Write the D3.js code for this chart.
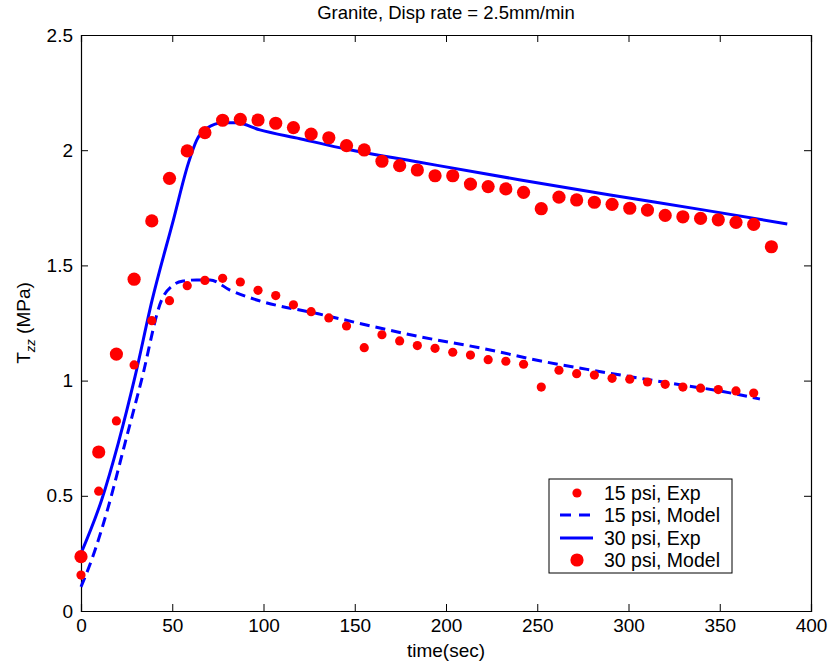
<!DOCTYPE html>
<html>
<head>
<meta charset="utf-8">
<script src="https://cdn.jsdelivr.net/npm/d3@7"></script>
<style>
  body { margin: 0; background: #fff; }
  text { font-family: "Liberation Sans", Arial, Helvetica, sans-serif; }
</style>
</head>
<body>
<div class="chart"></div>
<script>
// sample times (sec), same for both point series
var timeExp = [0, 9.7, 19.4, 29.1, 38.8, 48.5, 58.2, 67.9, 77.6, 87.3, 97, 106.7, 116.4, 126.1,
  135.8, 145.5, 155.2, 164.9, 174.6, 184.3, 194, 203.7, 213.4, 223.1, 232.8, 242.5, 252.2,
  261.9, 271.6, 281.3, 291, 300.7, 310.4, 320.1, 329.8, 339.5, 349.2, 358.9, 368.6, 378.3];

// 15 psi, Exp (small dots) -- one fewer than the 30 psi set
var exp15 = [0.156, 0.520, 0.825, 1.068, 1.260, 1.347, 1.412, 1.435, 1.444, 1.428, 1.392, 1.369,
  1.329, 1.299, 1.272, 1.237, 1.143, 1.199, 1.172, 1.152, 1.140, 1.123, 1.111, 1.091, 1.084,
  1.071, 0.972, 1.045, 1.030, 1.024, 1.010, 1.006, 0.994, 0.984, 0.972, 0.967, 0.961, 0.955, 0.946];

// 30 psi, Model (big dots)
var model30 = [0.236, 0.690, 1.115, 1.440, 1.693, 1.878, 1.997, 2.076, 2.130, 2.134, 2.131, 2.117,
  2.098, 2.070, 2.054, 2.020, 2.001, 1.952, 1.933, 1.914, 1.889, 1.889, 1.853, 1.842, 1.832,
  1.817, 1.746, 1.796, 1.784, 1.774, 1.765, 1.748, 1.740, 1.717, 1.711, 1.704, 1.698, 1.687,
  1.678, 1.581];

// 15 psi, Model (dashed)
var modelT15 = [0, 5.8, 15, 24.1, 33.2, 44.2, 50.6, 56, 63.4, 70.7, 81.6, 96.3, 130, 160, 186, 220, 252, 280, 301, 330, 350, 372];
var model15 = [0.105, 0.221, 0.453, 0.728, 1.003, 1.35, 1.415, 1.432, 1.437, 1.437, 1.393, 1.35,
  1.29, 1.235, 1.19, 1.14, 1.085, 1.045, 1.017, 0.98, 0.955, 0.92];

// 30 psi, Exp (solid)
var expT30 = [0, 11.3, 20.4, 29.6, 39, 50.6, 58.8, 63.4, 68.9, 78, 85.3, 98, 120, 145, 184, 240, 290, 340, 387];
var exp30 = [0.25, 0.482, 0.728, 1.017, 1.35, 1.697, 1.943, 2.044, 2.095, 2.119, 2.119, 2.088,
  2.05, 2.005, 1.950, 1.872, 1.806, 1.742, 1.680];

var xTicks = [0, 50, 100, 150, 200, 250, 300, 350, 400];
var yTicks = [0, 0.5, 1, 1.5, 2, 2.5];
var legendLabels = ["15 psi, Exp", "15 psi, Model", "30 psi, Exp", "30 psi, Model"];

var W = 832, H = 667;
var margin = {top: 35, right: 21, bottom: 56, left: 81},
    width = W - margin.left - margin.right,
    height = H - margin.top - margin.bottom;

var svg = d3.select("div.chart").append("svg")
    .attr("width", W)
    .attr("height", H);

var g = svg.append("g")
    .attr("transform", "translate(" + margin.left + "," + margin.top + ")");

var x = d3.scaleLinear().domain([0, 400]).range([0, width]);
var y = d3.scaleLinear().domain([0, 2.5]).range([height, 0]);

var blue = "#0000ff", red = "#ff0000";

// axes, ticks inward on all four sides
var fmt = function(d) { return d3.format("")(d); };
g.append("g")
    .attr("transform", "translate(0," + height + ")")
    .call(d3.axisBottom(x).tickValues(xTicks).tickSize(-7).tickPadding(8).tickFormat(fmt));
g.append("g")
    .call(d3.axisLeft(y).tickValues(yTicks).tickSize(-7).tickPadding(8).tickFormat(fmt));
g.append("g")
    .call(d3.axisTop(x).tickValues(xTicks).tickSize(-7).tickFormat(""));
g.append("g")
    .attr("transform", "translate(" + width + ",0)")
    .call(d3.axisRight(y).tickValues(yTicks).tickSize(-7).tickFormat(""));

g.selectAll(".domain").attr("stroke", "#000").attr("stroke-width", 1.2);
g.selectAll(".tick line").attr("stroke", "#000");
g.selectAll(".tick text").attr("font-size", 19).attr("fill", "#000")
    .attr("font-family", "'Liberation Sans', Arial, sans-serif");

// lines
var line = d3.line()
    .x(function(d) { return x(d[0]); })
    .y(function(d) { return y(d[1]); })
    .curve(d3.curveMonotoneX);

g.append("path")
    .datum(d3.zip(modelT15, model15))
    .attr("fill", "none")
    .attr("stroke", blue)
    .attr("stroke-width", 3)
    .attr("stroke-dasharray", "10,6")
    .attr("d", line);

g.append("path")
    .datum(d3.zip(expT30, exp30))
    .attr("fill", "none")
    .attr("stroke", blue)
    .attr("stroke-width", 3)
    .attr("stroke-linejoin", "round")
    .attr("d", line);

// dots
g.append("g").selectAll("circle")
    .data(d3.zip(timeExp, exp15))
  .enter().append("circle")
    .attr("cx", function(d) { return x(d[0]); })
    .attr("cy", function(d) { return y(d[1]); })
    .attr("r", 4.6)
    .attr("fill", red);

g.append("g").selectAll("circle")
    .data(d3.zip(timeExp, model30))
  .enter().append("circle")
    .attr("cx", function(d) { return x(d[0]); })
    .attr("cy", function(d) { return y(d[1]); })
    .attr("r", 6.6)
    .attr("fill", red);

// title and labels
svg.append("text")
    .attr("x", margin.left + width / 2)
    .attr("y", 19)
    .attr("text-anchor", "middle")
    .attr("font-size", 18.5)
    .text("Granite, Disp rate = 2.5mm/min");

svg.append("text")
    .attr("x", margin.left + width / 2)
    .attr("y", 657)
    .attr("text-anchor", "middle")
    .attr("font-size", 19)
    .text("time(sec)");

var yl = svg.append("text")
    .attr("transform", "translate(30," + (margin.top + height / 2) + ") rotate(-90)")
    .attr("text-anchor", "middle")
    .attr("font-size", 19);
yl.append("tspan").text("T");
yl.append("tspan").attr("font-size", 13).attr("font-style", "italic").attr("dy", 5).text("zz");
yl.append("tspan").attr("dy", -5).text(" (MPa)");

// legend
var lg = svg.append("g").attr("transform", "translate(549,479)");
lg.append("rect")
    .attr("width", 183).attr("height", 94)
    .attr("fill", "#fff").attr("stroke", "#000").attr("stroke-width", 1);

var rowY = [14, 36, 59, 81];
lg.selectAll("text.lab")
    .data(legendLabels)
  .enter().append("text")
    .attr("class", "lab")
    .attr("x", 55)
    .attr("y", function(d, i) { return rowY[i] + 7; })
    .attr("font-size", 19.5)
    .text(function(d) { return d; });

lg.append("circle").attr("cx", 28).attr("cy", rowY[0]).attr("r", 4.6).attr("fill", red);
lg.append("line").attr("x1", 11).attr("x2", 44).attr("y1", rowY[1]).attr("y2", rowY[1])
    .attr("stroke", blue).attr("stroke-width", 3).attr("stroke-dasharray", "11,8");
lg.append("line").attr("x1", 11).attr("x2", 44).attr("y1", rowY[2]).attr("y2", rowY[2])
    .attr("stroke", blue).attr("stroke-width", 3);
lg.append("circle").attr("cx", 28).attr("cy", rowY[3]).attr("r", 6.6).attr("fill", red);
</script>
</body>
</html>
